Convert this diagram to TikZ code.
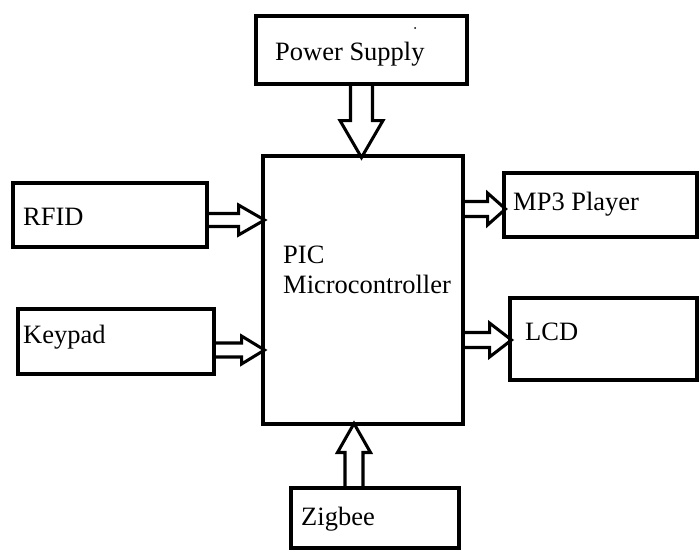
\documentclass[tikz,border=0pt]{standalone}
\usepackage{fontspec}
\setmainfont{Liberation Serif}
\usetikzlibrary{calc}
\tikzset{
  blk/.style n args={2}{draw,line width=2.6pt,minimum width=#1*0.03cm,minimum height=#2*0.03cm,inner sep=0pt},
  lbl/.style={anchor=base west,inner sep=0pt,font=\fontsize{22.6}{27}\selectfont},
  fat/.style={line width=2.6pt}
}
% start, angle, length, shaft half width, head half width, head length
\newcommand{\fatarrow}[6]{%
  \draw[fat,shift={#1},rotate=#2] (0,-#4) -- (#3-#6,-#4) -- (#3-#6,-#5) -- (#3,0)
    -- (#3-#6,#5) -- (#3-#6,#4) -- (0,#4);}
\begin{document}
\begin{tikzpicture}[x=0.03cm,y=-0.03cm]
  \useasboundingbox (0,0) rectangle (699,549);
  % blocks
  \node[blk={211}{68}] (power) at (361.5,50) {};
  \node[blk={200}{268}] (pic) at (363,290) {};
  \node[blk={194}{64}] (rfid) at (110,215) {};
  \node[blk={196}{65}] (keypad) at (116,341.5) {};
  \node[blk={193}{64}] (mp3) at (600.5,205) {};
  \node[blk={187}{82}] (lcd) at (603.5,339) {};
  \node[blk={168}{60}] (zigbee) at (375,518) {};
  % texts
  \node[lbl] (tpower) at (275,60) {Power Supply};
  \node[lbl] (tpic) at (283,263) {PIC};
  \node[lbl] (tmcu) at (283,293) {Microcontroller};
  \node[lbl] (trfid) at (23,225) {RFID};
  \node[lbl] (tkeypad) at (23,343) {Keypad};
  \node[lbl] (tmp3) at (513,210) {MP3 Player};
  \node[lbl] (tlcd) at (525,340) {LCD};
  \node[lbl] (tzigbee) at (301,525) {Zigbee};
  \fill (415,28) circle (1);
  % arrows
  \fatarrow{(power.south)}{-90}{72}{11}{21.5}{37}
  \fatarrow{($(rfid.east)+(0,5)$)}{0}{56}{6.5}{15}{26}
  \fatarrow{($(keypad.east)+(0,8.5)$)}{0}{49}{7}{14}{23}
  \fatarrow{($(mp3.west -| pic.east)+(0,4)$)}{0}{41}{7.5}{16}{18}
  \fatarrow{($(lcd.west -| pic.east)+(0,1)$)}{0}{47}{7.5}{17}{22}
  \fatarrow{($(zigbee.north)+(-21,0)$)}{90}{63}{9}{16.5}{29}
\end{tikzpicture}
\end{document}
